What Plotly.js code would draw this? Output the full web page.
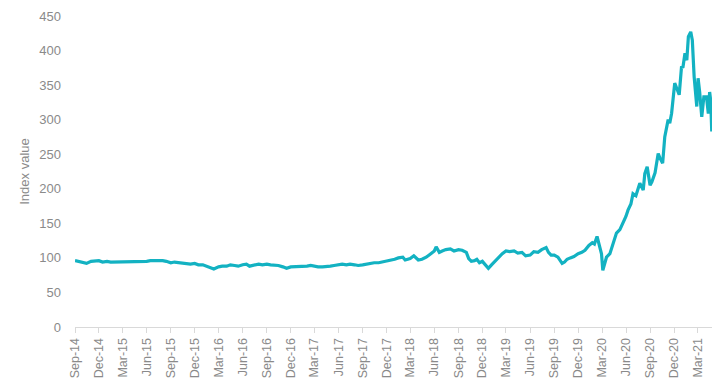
<!DOCTYPE html>
<html>
<head>
<meta charset="utf-8">
<script src="https://cdn.plot.ly/plotly-3.0.1.min.js"></script>
<style>
html,body{margin:0;padding:0;background:#fff;}
#chart{width:727px;height:390px;}
</style>
</head>
<body>
<div id="chart"></div>
<script>
var dates = [
"2014-09-01","2014-09-15","2014-10-01","2014-10-15","2014-11-01","2014-11-15","2014-12-01","2014-12-15",
"2015-01-01","2015-01-15","2015-02-01","2015-02-15","2015-03-01","2015-03-15","2015-04-01","2015-04-15",
"2015-05-01","2015-05-15","2015-06-01","2015-06-15","2015-07-01","2015-07-15","2015-08-01","2015-08-15",
"2015-09-01","2015-09-15","2015-10-01","2015-10-15","2015-11-01","2015-11-15","2015-12-01","2015-12-15",
"2016-01-01","2016-01-15","2016-02-01","2016-02-12","2016-03-01","2016-03-15","2016-04-01","2016-04-15",
"2016-05-01","2016-05-15","2016-06-01","2016-06-15","2016-06-27","2016-07-15","2016-08-01","2016-08-15",
"2016-09-01","2016-09-15","2016-10-01","2016-10-15","2016-11-01","2016-11-15","2016-12-01","2016-12-15",
"2017-01-01","2017-01-15","2017-02-01","2017-02-15","2017-03-01","2017-03-15","2017-04-01","2017-04-15",
"2017-05-01","2017-05-15","2017-06-01","2017-06-15","2017-07-01","2017-07-15","2017-08-01","2017-08-15",
"2017-09-01","2017-09-15","2017-10-01","2017-10-15","2017-11-01","2017-11-15","2017-12-01","2017-12-15",
"2018-01-01","2018-01-15","2018-02-01","2018-02-10","2018-03-01","2018-03-15","2018-04-01","2018-04-15",
"2018-05-01","2018-05-15","2018-06-01","2018-06-08","2018-06-20","2018-07-01","2018-07-15","2018-08-01",
"2018-08-15","2018-09-01","2018-09-15","2018-10-01","2018-10-10","2018-10-20","2018-11-01","2018-11-10",
"2018-11-20","2018-12-01","2018-12-15","2018-12-24","2019-01-05","2019-01-15","2019-02-01","2019-02-15",
"2019-03-01","2019-03-15","2019-04-01","2019-04-15","2019-05-01","2019-05-15","2019-06-01","2019-06-15",
"2019-07-01","2019-07-15","2019-08-01","2019-08-10","2019-08-20","2019-09-01","2019-09-15","2019-10-01",
"2019-10-10","2019-10-20","2019-11-01","2019-11-15","2019-12-01","2019-12-15","2019-12-27","2020-01-11",
"2020-01-24","2020-02-01","2020-02-11","2020-02-22","2020-02-28","2020-03-04","2020-03-10","2020-03-18",
"2020-03-31","2020-04-11","2020-04-25","2020-05-08","2020-05-20","2020-05-31","2020-06-08","2020-06-19",
"2020-06-27","2020-07-08","2020-07-23","2020-08-05","2020-08-11","2020-08-20","2020-08-31","2020-09-07",
"2020-09-19","2020-10-01","2020-10-07","2020-10-18","2020-10-26","2020-11-08","2020-11-14","2020-11-21",
"2020-12-03","2020-12-11","2020-12-20","2020-12-29","2021-01-03","2021-01-11","2021-01-18","2021-01-24",
"2021-02-02","2021-02-08","2021-02-15","2021-02-25","2021-03-02","2021-03-08","2021-03-16","2021-03-24",
"2021-04-03","2021-04-10","2021-04-15","2021-04-19","2021-04-23"
];
var indexValues = [
96,95,93,92,95,95,96,94,
95,94,94,94,94,94,95,95,
94,95,95,96,96,97,96,95,
93,94,93,92,92,91,92,90,
90,88,86,84,87,88,88,90,
89,88,90,91,88,90,91,90,
91,90,90,89,87,85,87,87,
88,88,88,89,88,87,87,87,
88,89,90,91,90,91,90,89,
90,91,92,93,93,94,95,97,
98,100,101,97,99,103,97,98,
101,105,110,116,108,110,112,113,
110,112,111,108,99,95,96,98,
93,95,88,85,90,94,100,106,
110,109,110,107,108,103,104,109,
108,112,115,108,104,104,101,92,
94,98,100,102,106,108,111,118,
122,120,131,114,106,82,92,101,
106,118,136,141,150,160,169,178,
193,190,208,198,222,232,205,210,
223,251,245,237,275,300,295,309,
353,345,336,377,375,396,386,420,
427,415,362,319,360,340,304,333,
333,309,340,328,283
];
var yTickVals = [0,50,100,150,200,250,300,350,400,450];
var yTitle = "Index value";

var grey = "#8a8a8a";
var trace = {
  x: dates, y: indexValues, type: "scatter", mode: "lines",
  line: {color: "#13B2C2", width: 3.2},
  hoverinfo: "skip"
};
var layout = {
  width: 727, height: 390,
  margin: {l: 75, r: 15, t: 16, b: 63},
  paper_bgcolor: "#fff", plot_bgcolor: "#fff",
  showlegend: false,
  font: {family: "Liberation Sans, Arial, sans-serif", size: 13, color: grey},
  xaxis: {
    type: "date",
    range: ["2014-09-01", "2021-04-24"],
    tick0: "2014-09-01", dtick: "M3", tickformat: "%b-%y",
    tickangle: -90,
    showgrid: false, zeroline: false,
    showline: true, linecolor: "#d9d9d9", linewidth: 1,
    ticks: "outside", ticklen: 5, tickcolor: "#d9d9d9", tickwidth: 1,
    tickfont: {size: 12.5, color: grey}
  },
  yaxis: {
    range: [0, 450],
    tickvals: yTickVals,
    showgrid: false, zeroline: false, showline: false,
    ticks: "", ticklabelstandoff: 13,
    tickfont: {size: 13, color: grey},
    title: {text: yTitle, font: {size: 13, color: grey}, standoff: 6}
  }
};
Plotly.newPlot("chart", [trace], layout, {staticPlot: true, displayModeBar: false});
</script>
</body>
</html>
